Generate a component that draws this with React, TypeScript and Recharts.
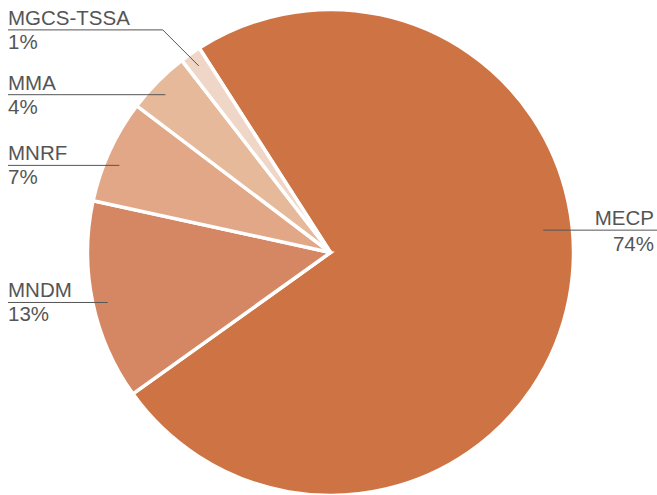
import React from 'react';
import { PieChart, Pie, Cell } from 'recharts';

document.body.style.margin = '0';

// share of spending by ministry (%)
const ministries = ['MECP', 'MNDM', 'MNRF', 'MMA', 'MGCS-TSSA'];
const shares = [74.2, 13.3, 6.9, 4.2, 1.4];
const colors = ['#CE7444', '#D58763', '#E2A786', '#E5B99A', '#F0D6C6'];

const data = ministries.map((name, i) => ({ name, value: shares[i] }));

const RAD = Math.PI / 180;
const W = 657;
const H = 495;

// small per-label tweaks so the leader lines sit like the original
const anchorAngle: Record<string, number> = { MECP: 6 };
const anchorNudge: Record<string, number> = { MNRF: 2.3, MMA: 1, MNDM: 1 };

function renderLabel(props: any) {
  const { cx, cy, midAngle, outerRadius, name, value } = props;
  const angle = anchorAngle[name] ?? midAngle + (anchorNudge[name] ?? 0);
  const r = name === 'MECP' ? outerRadius * 0.88 : outerRadius * 0.94;
  const ax = cx + r * Math.cos(-angle * RAD);
  const ay = cy + r * Math.sin(-angle * RAD);
  const pct = `${Math.round(value)}%`;
  const textStyle = { fontFamily: '"Liberation Sans", Arial, sans-serif', fontSize: 20.5, fill: '#555' };

  if (name === 'MECP') {
    return (
      <g key={name}>
        <line x1={ax} y1={ay} x2={W} y2={ay} stroke="#555" strokeWidth={1} />
        <text x={W - 3} y={ay - 5} textAnchor="end" style={textStyle}>{name}</text>
        <text x={W - 3} y={ay + 21} textAnchor="end" style={textStyle}>{pct}</text>
      </g>
    );
  }

  // MGCS-TSSA sits in a crowded corner, so its line bends up first
  const bend = name === 'MGCS-TSSA' ? 36 : 0;
  const ly = ay - bend;
  return (
    <g key={name}>
      <polyline
        points={`8,${ly} ${ax - bend},${ly} ${ax},${ay}`}
        fill="none"
        stroke="#555"
        strokeWidth={1}
      />
      <text x={8} y={ly - 5} textAnchor="start" style={textStyle}>{name}</text>
      <text x={8} y={ly + 19} textAnchor="start" style={textStyle}>{pct}</text>
    </g>
  );
}

export default function App() {
  return (
    <div style={{ width: W, height: H }}>
      <PieChart width={W} height={H} margin={{ top: 0, right: 0, bottom: 0, left: 0 }}>
        <Pie
          data={data}
          dataKey="value"
          nameKey="name"
          cx={330.5}
          cy={252.5}
          outerRadius={243}
          startAngle={122.7}
          endAngle={-237.3}
          stroke="#fff"
          strokeWidth={3.5}
          label={renderLabel}
          labelLine={false}
          isAnimationActive={false}
        >
          {data.map((d, i) => (
            <Cell key={d.name} fill={colors[i]} />
          ))}
        </Pie>
      </PieChart>
    </div>
  );
}
